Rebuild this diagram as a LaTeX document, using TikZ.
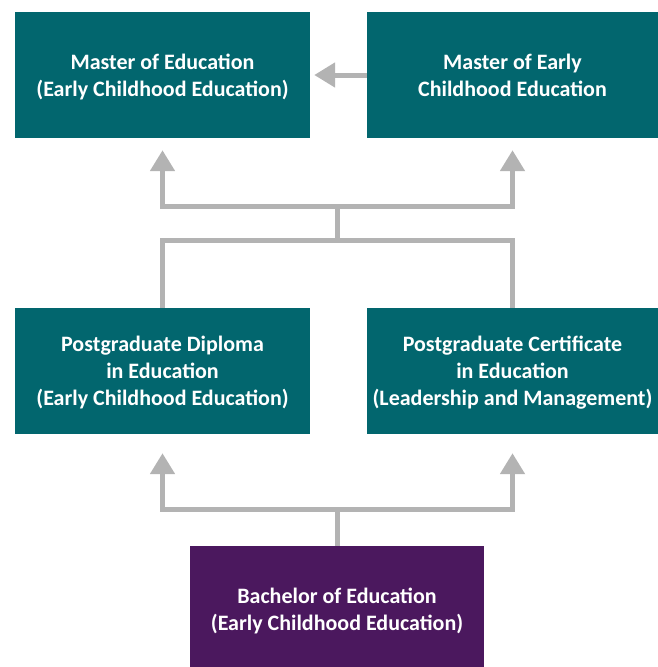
\documentclass[tikz,border=0pt]{standalone}
\usepackage{fontspec}
\setmainfont{Carlito}
\usepackage{tikz}
\usetikzlibrary{arrows.meta, positioning}

\definecolor{teal}{HTML}{02666E}
\definecolor{plum}{HTML}{4B185E}
\definecolor{link}{HTML}{B3B3B3}

\begin{document}
\begin{tikzpicture}[x=1pt, y=-1pt, >={Triangle[length=21pt, width=24pt]}, on grid,
    course/.style={fill=teal, text=white, minimum width=295pt, minimum height=126pt,
      align=center, font=\fontsize{22}{27}\selectfont\bfseries, inner sep=0pt, text depth=0pt},
    link/.style={draw=link, line width=5pt}]
          \useasboundingbox (0,0) rectangle (658,667);

          \node[course] (MEd) at (162.5,75) {Master of Education\\(Early Childhood Education)};
          \node[course, minimum width=291pt, right=350pt of MEd] (MECE) {Master of Early\\Childhood Education};
          \node[course, below=296pt of MEd] (PGDip) {Postgraduate Diploma\\in Education\\(Early Childhood Education)};
          \node[course, minimum width=291pt, below=296pt of MECE] (PGCert) {Postgraduate Certificate\\in Education\\(Leadership and Management)};
          \node[course, fill=plum, minimum width=294pt] (BEd) at (337,609) {Bachelor of Education\\(Early Childhood Education)};

          % junctions of the links
          \coordinate (upper) at (337,206);
          \coordinate (lower) at (337,240);
          \coordinate (base) at (337,509);

          \path[link, ->, shorten >=4pt] (MECE.west) -- (MEd.east);

          \path[link] (PGDip.north) |- (lower) -- (upper);
          \path[link] (PGCert.north) |- (lower);
          \path[link, ->, shorten >=12pt] (upper) -| (MEd.south);
          \path[link, ->, shorten >=12pt] (upper) -| (MECE.south);

          \path[link] (BEd.north) -- (base);
          \path[link, ->, shorten >=19pt] (base) -| (PGDip.south);
          \path[link, ->, shorten >=19pt] (base) -| (PGCert.south);
        \end{tikzpicture}
\end{document}
